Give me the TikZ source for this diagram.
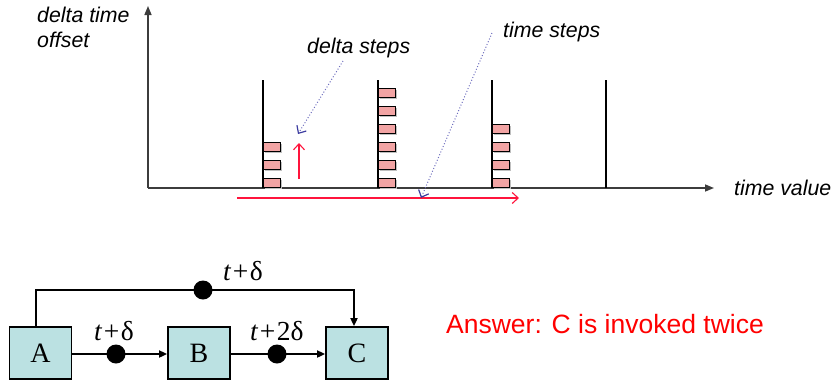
\documentclass[tikz,border=0pt]{standalone}
\usepackage{fontspec}
\setmainfont{Liberation Sans}
\newfontfamily\tms{Liberation Serif}
\usetikzlibrary{arrows.meta,shadows}
\definecolor{pinkbox}{RGB}{242,164,164}
\definecolor{cyanbox}{RGB}{187,225,226}
\definecolor{redline}{RGB}{255,20,60}
\definecolor{bluedot}{RGB}{110,110,190}
\definecolor{bluehead}{RGB}{60,60,160}
\definecolor{axis}{RGB}{60,60,60}
\begin{document}
\begin{tikzpicture}[x=1pt,y=-1pt,
  lbl/.style={font=\fontsize{21.3}{25}\selectfont\itshape, inner sep=0pt},
  axisline/.style={draw=axis, line width=1.5pt},
  tickline/.style={draw=black, line width=1.3pt},
  dstep/.style={draw=black, line width=1pt, fill=pinkbox, minimum width=17pt, minimum height=9pt, inner sep=0pt, anchor=south west,
    drop shadow={shadow xshift=1.2pt, shadow yshift=-1.2pt, fill=black!25, opacity=1}},
  redarrow/.style={draw=redline, line width=1.1pt, -{Straight Barb[length=6pt,width=11pt]}},
  bluearrow/.style={draw=bluedot, line width=1pt, dotted, -{Straight Barb[length=6pt,width=11pt,color=bluehead,line width=1.2pt,sep=0pt]}},
  blk/.style={draw=black, line width=1.8pt, fill=cyanbox, minimum width=62pt, minimum height=52pt, inner sep=0pt, font=\tms\fontsize{28}{30}\selectfont},
  conn/.style={draw=black, line width=1.8pt, -{Triangle[length=8pt,width=7pt]}},
  dotn/.style={circle, fill=black, minimum size=19pt, inner sep=0pt},
  tlbl/.style={font=\tms\fontsize{27.5}{30}\selectfont, inner sep=0pt, anchor=base west}
]
\useasboundingbox (0,0) rectangle (833,381);

% axes
\coordinate (o) at (148,188);
\coordinate (ytop) at (148,6);
\coordinate (xend) at (714,188);
\draw[axisline, -{Triangle[length=9pt,width=7pt]}] (o) -- (ytop);
\draw[axisline, -{Triangle[length=9pt,width=7pt]}] (o) -- (xend);

\node[lbl, anchor=north west, align=left] (ylab) at (37,7) {delta time\\offset};
\node[lbl, anchor=base west] (xlab) at (734,195) {time value};
\node[lbl, anchor=base west] (dlab) at (307,53) {delta steps};
\node[lbl, anchor=base west] (tlab) at (503,37) {time steps};

% time step lines
\foreach \n/\x in {1/263,2/378,3/492,4/606}{
  \coordinate (t\n b) at (\x,188);
  \coordinate (t\n t) at (\x,80);
}
% delta step boxes
\foreach \i in {0,1,2}{ \node[dstep] (s1-\i) at (263,188-18*\i) {}; }
\foreach \i in {0,...,5}{ \node[dstep] (s2-\i) at (378,188-18*\i) {}; }
\foreach \i in {0,...,3}{ \node[dstep] (s3-\i) at (492,188-18*\i) {}; }
\foreach \n in {1,2,3,4}{ \draw[tickline] (t\n b) -- (t\n t); }

% red arrows
\coordinate (ru0) at (299,179);
\coordinate (ru1) at (299,143);
\draw[redarrow] (ru0) -- (ru1);
\coordinate (rh0) at (237,198);
\coordinate (rh1) at (519,198);
\draw[redarrow] (rh0) -- (rh1);

% blue dotted pointers
\coordinate (bd0) at (343,61);
\coordinate (bd1) at (298,134);
\draw[bluearrow] (bd0) -- (bd1);
\coordinate (bt0) at (492,33);
\coordinate (bt1) at (421,198);
\draw[bluearrow] (bt0) -- (bt1);

% bottom block diagram
\node[blk] (A) at (40.5,353) {A};
\node[blk] (B) at (199,353) {B};
\node[blk] (C) at (357,353) {C};
\node[dotn] (d1) at (116,354) {};
\node[dotn] (d2) at (277,354) {};
\node[dotn] (d3) at (203,290) {};
\draw[conn] (A.east |- d1) -- (B.west |- d1);
\draw[conn] (B.east |- d2) -- (C.west |- d2);
\draw[conn] ([xshift=-4.5pt]A.north) |- (d3.center) -| ([xshift=-3pt]C.north);
\node[tlbl] (l3) at (223,280) {\itshape t\/\hspace{1.5pt}\upshape+\hspace{1.5pt}δ};
\node[tlbl] (l1) at (94,340) {\itshape t\/\hspace{1.5pt}\upshape+\hspace{1.5pt}δ};
\node[tlbl] (l2) at (250,340) {\itshape t\/\hspace{1.5pt}\upshape+\hspace{1.5pt}2δ};

\node[font=\fontsize{26.5}{28}\selectfont, text=red, inner sep=0pt, anchor=base west] (ans) at (446,333) {Answer: C is invoked twice};
\end{tikzpicture}
\end{document}
